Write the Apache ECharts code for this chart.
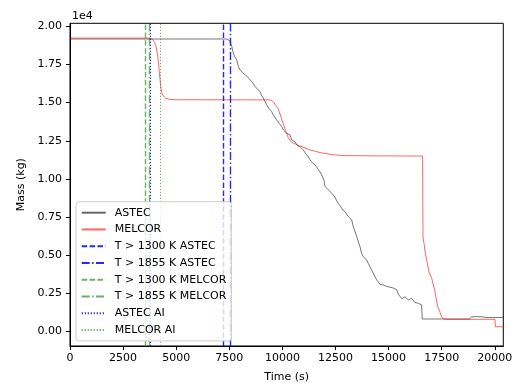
<!DOCTYPE html>
<html><head><meta charset="utf-8">
<script src="https://cdn.jsdelivr.net/npm/echarts@6/dist/echarts.min.js"></script>
<style>html,body{margin:0;padding:0;background:#fff}#c{width:516px;height:385px}</style>
</head><body><div id="c"></div>
<script>
// ---- data ----
const astecTime = [0,7300,7400,7500,7560,7613,7688,7760,7848,7924,8004,8120,8239,8350,8474,8600,8710,8830,8945,9025,9100,9181,9261,9350,9496,9571,9731,9850,9967,10043,10100,10202,10358,10435,10514,10593,10700,10829,10984,11100,11220,11299,11420,11535,11615,11750,11850,11926,11960,12005,12120,12241,12360,12476,12600,12712,12830,12947,13020,13102,13180,13263,13338,13420,13498,13580,13653,13730,13810,13968,14080,14204,14320,14439,14600,14751,14900,15066,15200,15381,15460,15536,15616,15772,15928,16087,16160,16243,16320,16400,16557,16580,18800,18900,19100,19400,19600,20400];
const astecMass = [19170,19170,19160,19080,18950,18700,18250,18000,17800,17380,17150,16980,16820,16700,16500,16300,16060,15880,15720,15450,15300,15180,14860,14650,14400,14200,13870,13650,13430,13220,13100,13000,12880,12560,12500,12440,12200,12110,11900,11650,11460,11250,11050,10920,10800,10500,10260,10250,9900,9500,9350,9170,9000,8800,8450,8250,8000,7850,7700,7530,7450,7310,6870,6550,6220,5850,5560,5100,4900,4690,4350,4030,3700,3380,3080,3050,2960,2900,2860,2740,2450,2390,2150,2280,2070,2170,2060,1900,1980,1850,1740,820,820,950,980,960,920,920];
const melcorTime = [0,3700,3800,3900,3980,4050,4110,4160,4200,4240,4280,4330,4400,4500,4650,5000,9400,9500,9600,9731,9807,9900,10043,10150,10278,10420,10593,10800,10984,11300,11770,12300,12867,14500,16600,16620,16667,16720,16793,16900,17028,17184,17300,17420,17500,17600,17735,20009,20030,20400];
const melcorMass = [19230,19230,19210,19120,18950,18700,18250,17700,17100,16500,15950,15600,15420,15300,15220,15190,15180,15150,15000,14740,14600,14200,13620,13150,12700,12420,12300,12170,12080,11900,11730,11600,11530,11510,11500,6200,5780,5200,4690,3900,3500,2600,1700,1250,930,830,800,800,310,310];
const vlineNames = ['T > 1300 K ASTEC','T > 1855 K ASTEC','T > 1300 K MELCOR','T > 1855 K MELCOR','ASTEC AI','MELCOR AI'];
const vlineTimes = [7218,7533,3530,3720,3790,4270];
const xTicks = [0,2500,5000,7500,10000,12500,15000,17500,20000];
const yTicks = [0,2500,5000,7500,10000,12500,15000,17500,20000];

// ---- styles ----
const BLUE = 'rgba(0,0,255,0.85)', GREEN = 'rgba(0,128,0,0.6)';
const DASH = [5.5,2.4], DASHDOT = [8,2.4,1.5,2.4], DOT = [1.2,1.8];
const vStyles = [
  {color:BLUE, type:DASH, width:1.4},
  {color:BLUE, type:DASHDOT, width:1.4},
  {color:GREEN, type:DASH, width:1.4},
  {color:GREEN, type:DASHDOT, width:1.4},
  {color:BLUE, type:DOT, width:1},
  {color:GREEN, type:DOT, width:1}
];
const zip = (a,b)=>a.map((t,i)=>[t,b[i]]);
const FONT = 'DejaVu Sans';

const series = [
  {name:'ASTEC', type:'line', symbol:'none', data:zip(astecTime,astecMass),
   lineStyle:{color:'rgba(0,0,0,0.6)', width:0.9}, itemStyle:{color:'rgba(0,0,0,0.45)'}, z:3},
  {name:'MELCOR', type:'line', symbol:'none', data:zip(melcorTime,melcorMass),
   lineStyle:{color:'rgba(255,0,0,0.6)', width:1}, itemStyle:{color:'rgba(255,0,0,0.45)'}, z:3}
];
vlineNames.forEach((n,i)=>{
  series.push({name:n, type:'line', symbol:'none', data:[],
    lineStyle:vStyles[i], itemStyle:{color:vStyles[i].color},
    markLine:{silent:true, symbol:['none','none'], label:{show:false},
      lineStyle:vStyles[i], emphasis:{disabled:true}, data:[{xAxis:vlineTimes[i]}]}});
});

const chart = echarts.init(document.getElementById('c'), null, {renderer:'canvas'});
chart.setOption({
  animation:false,
  backgroundColor:'#fff',
  textStyle:{fontFamily:FONT},
  grid:{left:70, top:23.3, right:12.7, bottom:39, outerBoundsMode:'none', containLabel:false,
    show:true, borderColor:'#000', borderWidth:1, backgroundColor:'transparent'},
  xAxis:{type:'value', min:0, max:20400,
    name:'Time (s)', nameLocation:'middle', nameGap:26,
    nameTextStyle:{fontFamily:FONT, fontSize:11, color:'#000'},
    axisLine:{show:true, onZero:false, lineStyle:{color:'#000', width:1}},
    axisTick:{show:true, length:4, customValues:xTicks, lineStyle:{color:'#000'}},
    axisLabel:{customValues:xTicks, margin:7, fontFamily:FONT, fontSize:11, color:'#000',
      formatter:v=>String(Math.round(v))},
    splitLine:{show:false}},
  yAxis:{type:'value', min:-950, max:20200,
    name:'Mass (kg)', nameLocation:'middle', nameGap:41,
    nameTextStyle:{fontFamily:FONT, fontSize:11, color:'#000'},
    axisLine:{show:true, onZero:false, lineStyle:{color:'#000', width:1}},
    axisTick:{show:true, length:4, customValues:yTicks, lineStyle:{color:'#000'}},
    axisLabel:{customValues:yTicks, margin:8, fontFamily:FONT, fontSize:11, color:'#000',
      formatter:v=>(v/1e4).toFixed(2)},
    splitLine:{show:false}},
  legend:{orient:'vertical', left:76, top:201.7,
    data:['ASTEC','MELCOR'].concat(vlineNames),
    itemWidth:24, itemHeight:12, itemGap:4.75,
    padding:[5,5,5,4.7],
    itemStyle:{opacity:0},
    backgroundColor:'rgba(255,255,255,0.8)', borderColor:'#cccccc', borderWidth:1, borderRadius:3,
    textStyle:{fontFamily:FONT, fontSize:11, color:'#000', padding:[0,0,0,4], lineHeight:12},
    selectedMode:false, z:10},
  graphic:[{type:'text', left:72, top:11, style:{text:'1e4', font:'11px "DejaVu Sans"', fill:'#000'}}],
  series:series
});
</script></body></html>
